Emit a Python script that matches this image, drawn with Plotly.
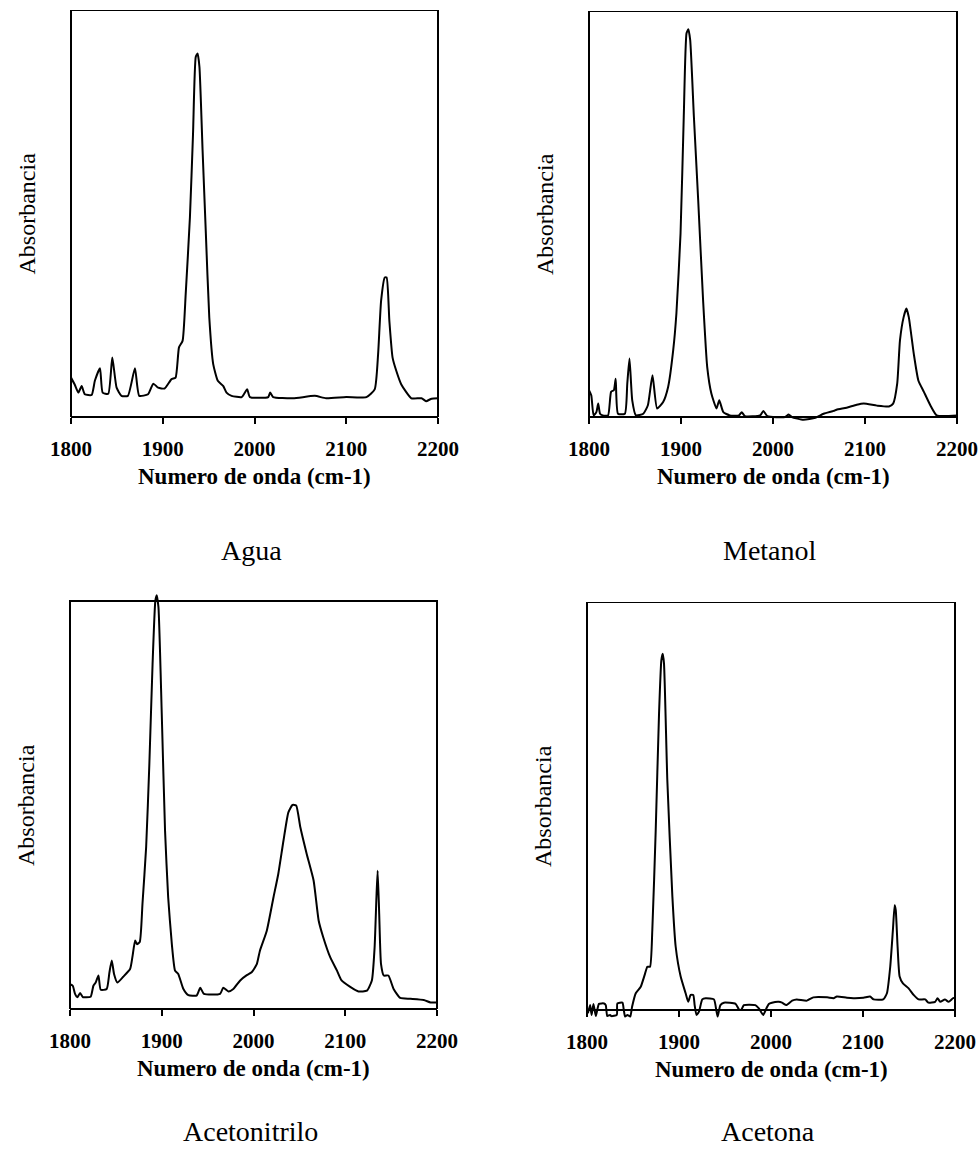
import plotly.graph_objects as go

# ---------------- data ----------------
agua_x = [1800, 1804, 1808, 1811.6, 1815, 1822.5, 1826, 1831.6, 1834.5, 1840.6, 1845, 1849.7, 1855, 1862,
          1869.7, 1874.4, 1884, 1889.7, 1895, 1902, 1909.6, 1914, 1917.7, 1921.6, 1925, 1929.6, 1933, 1936,
          1938, 1940, 1943.4, 1947, 1950.7, 1955, 1960, 1966, 1969.5, 1975, 1986, 1992, 1995, 2015, 2017,
          2020.3, 2042, 2065.7, 2078, 2100, 2122, 2131, 2134.7, 2138, 2142, 2144, 2147, 2150.5, 2154.6,
          2160, 2171, 2182, 2187, 2193, 2200]
agua_y = [0.097, 0.080, 0.060, 0.076, 0.056, 0.054, 0.089, 0.120, 0.060, 0.057, 0.146, 0.072, 0.052, 0.052,
          0.120, 0.052, 0.056, 0.082, 0.072, 0.070, 0.093, 0.097, 0.171, 0.187, 0.302, 0.490, 0.696, 0.885,
          0.893, 0.860, 0.656, 0.450, 0.245, 0.130, 0.089, 0.076, 0.060, 0.052, 0.049, 0.068, 0.049, 0.049, 0.060,
          0.049, 0.046, 0.052, 0.046, 0.049, 0.049, 0.068, 0.154, 0.286, 0.343, 0.343, 0.236, 0.146, 0.113,
          0.080, 0.046, 0.046, 0.039, 0.045, 0.046]

metanol_x = [1800, 1802.5, 1805, 1808, 1810, 1812, 1815, 1820.7, 1824, 1827, 1829, 1831.5, 1839, 1841.6, 1844,
             1847, 1851, 1859, 1864, 1869, 1874, 1880.6, 1886, 1891.5, 1895, 1899.5, 1903, 1906, 1908, 1910,
             1914, 1918.7, 1924, 1928.5, 1933, 1938.6, 1941.6, 1946, 1953, 1963, 1966, 1969.5, 1986, 1989.5,
             1994, 2013, 2017, 2020.5, 2033, 2046, 2055, 2066, 2069, 2080, 2091, 2098.6, 2113, 2126, 2130.6,
             2135, 2138, 2142, 2145, 2147.6, 2153, 2158, 2164, 2171, 2178, 2200]
metanol_y = [0.066, 0.053, 0.004, 0.012, 0.033, 0.008, 0.004, 0.004, 0.062, 0.066, 0.094, 0.008, 0.008, 0.082, 0.144,
             0.041, 0.004, 0.008, 0.029, 0.103, 0.021, 0.037, 0.074, 0.164, 0.255, 0.452, 0.740, 0.945, 0.955, 0.928,
             0.740, 0.534, 0.288, 0.123, 0.058, 0.021, 0.041, 0.012, 0.004, 0.004, 0.012, 0.002, 0.004, 0.015,
             0.002, 0.000, 0.006, 0.000, -0.007, -0.002, 0.008, 0.015, 0.018, 0.023, 0.030, 0.033, 0.028, 0.026, 0.033,
             0.082, 0.189, 0.246, 0.267, 0.246, 0.156, 0.090, 0.062, 0.029, 0.004, 0.004]

acetonitrilo_x = [1800, 1803, 1805.5, 1808, 1811, 1814, 1816, 1822.5, 1825.5, 1828, 1831, 1833.5, 1840, 1843,
                  1845.5, 1848, 1851.6, 1858, 1865.5, 1868, 1871, 1873, 1876, 1879, 1883, 1886.5, 1890, 1893,
                  1894.5, 1896.4, 1900, 1903.6, 1907, 1911, 1914.5, 1918, 1923.6, 1929, 1938, 1942, 1946, 1963.6,
                  1967, 1972.7, 1978, 1985.5, 1992.7, 1998, 2003.6, 2007, 2014.5, 2021.8, 2027, 2032.7, 2038,
                  2042.5, 2046.5, 2051, 2058, 2065.5, 2071, 2076, 2083.6, 2091, 2096, 2105, 2114.5, 2123.6, 2129,
                  2132, 2134, 2135.3, 2137, 2139, 2142, 2147, 2152.7, 2160, 2171, 2185.5, 2193, 2200]
acetonitrilo_y = [0.061, 0.057, 0.037, 0.029, 0.039, 0.029, 0.029, 0.030, 0.057, 0.065, 0.082, 0.047, 0.049, 0.090,
                  0.119, 0.086, 0.065, 0.079, 0.098, 0.127, 0.168, 0.159, 0.164, 0.258, 0.397, 0.601, 0.846, 1.000,
                  1.014, 0.985, 0.724, 0.437, 0.274, 0.159, 0.094, 0.086, 0.049, 0.034, 0.033, 0.052, 0.037, 0.037,
                  0.052, 0.043, 0.049, 0.070, 0.083, 0.090, 0.110, 0.143, 0.192, 0.274, 0.331, 0.413, 0.482,
                  0.500, 0.499, 0.446, 0.380, 0.315, 0.217, 0.176, 0.127, 0.094, 0.070, 0.055, 0.043, 0.045, 0.070,
                  0.151, 0.274, 0.339, 0.233, 0.110, 0.082, 0.082, 0.049, 0.027, 0.025, 0.022, 0.016, 0.016]

acetona_x = [1801, 1803.4, 1805, 1807, 1809.6, 1813, 1818.6, 1820.4, 1822, 1825, 1826.6, 1832.4, 1833, 1838.5,
             1840, 1841.4, 1844, 1847, 1849, 1853, 1858.4, 1862.7, 1865.6, 1868.5, 1871, 1874.7, 1878.3, 1880.8,
             1882.3, 1883.7, 1887.3, 1892.8, 1896.4, 1901.8, 1907.2, 1910, 1912.7, 1915.5, 1917, 1919, 1921.7,
             1925.3, 1929, 1938, 1940.5, 1942, 1945, 1948.8, 1961.5, 1965, 1967.6, 1970.5, 1983, 1986.8, 1991.5,
             1995, 1997.6, 2001, 2008.4, 2012, 2016.7, 2023, 2028, 2039, 2046, 2061, 2068, 2071.6, 2082.5,
             2089.6, 2100.5, 2107.7, 2111.5, 2122, 2126, 2129.6, 2132.5, 2134.4, 2135.6, 2137.6, 2139.8, 2143.4,
             2149.6, 2155, 2160.4, 2167.6, 2171, 2178.4, 2181, 2184, 2189, 2193, 2198, 2200]
acetona_y = [-0.008, 0.012, -0.012, 0.015, -0.015, 0.015, 0.016, 0.012, -0.015, -0.012, -0.015, -0.012, 0.016, 0.018,
             0.000, -0.016, -0.012, -0.016, 0.008, 0.041, 0.057, 0.086, 0.106, 0.106, 0.196, 0.441, 0.727, 0.857,
             0.873, 0.849, 0.563, 0.278, 0.155, 0.082, 0.041, 0.020, 0.037, 0.037, 0.012, -0.012, -0.004,
             0.026, 0.029, 0.026, 0.000, -0.016, 0.012, 0.018, 0.015, 0.002, 0.000, 0.012, 0.012, 0.004, -0.012,
             0.004, 0.015, 0.018, 0.020, 0.018, 0.012, 0.023, 0.026, 0.023, 0.031, 0.031, 0.029, 0.033, 0.030,
             0.029, 0.030, 0.033, 0.026, 0.026, 0.041, 0.106, 0.196, 0.257, 0.245, 0.155, 0.082, 0.065,
             0.053, 0.037, 0.026, 0.026, 0.018, 0.020, 0.029, 0.020, 0.026, 0.020, 0.029, 0.029]

panel_names = ["Agua", "Metanol", "Acetonitrilo", "Acetona"]
x_ticks = [1800, 1900, 2000, 2100, 2200]
x_title = "Numero de onda (cm-1)"
y_title = "Absorbancia"

# ---------------- layout ----------------
W, H = 979, 1150
SERIF = "Liberation Serif, Times New Roman, serif"

# pixel boxes: left, right, top(y=1), bottom(y=0), y range, caption gap below axis
panels = [
    dict(x=agua_x, y=agua_y, l=71, r=438, t=10, b=417, yr=[0, 1.0], cap=133),
    dict(x=metanol_x, y=metanol_y, l=589, r=957, t=11, b=417, yr=[-0.012, 1.0], cap=133),
    dict(x=acetonitrilo_x, y=acetonitrilo_y, l=70, r=437, t=601, b=1009, yr=[0, 1.03], cap=122),
    dict(x=acetona_x, y=acetona_y, l=587, r=955, t=602, b=1010, yr=[-0.022, 1.0], cap=121),
]

fig = go.Figure()
annotations = []
shapes = []
for i, p in enumerate(panels, start=1):
    xa = "x" if i == 1 else f"x{i}"
    ya = "y" if i == 1 else f"y{i}"
    fig.add_trace(go.Scatter(x=p["x"], y=p["y"], mode="lines",
                             line=dict(color="black", width=2, shape="spline", smoothing=0.5),
                             xaxis=xa, yaxis=ya, showlegend=False))
    unit = p["b"] - p["t"]
    y0, y1 = p["yr"]
    top_px = p["b"] - y1 * unit
    bot_px = p["b"] - y0 * unit
    dx = [p["l"] / W, p["r"] / W]
    dy = [1 - bot_px / H, 1 - top_px / H]
    zero_pos = 1 - p["b"] / H
    xkey = "xaxis" if i == 1 else f"xaxis{i}"
    ykey = "yaxis" if i == 1 else f"yaxis{i}"
    fig.layout[xkey] = dict(domain=dx, range=[1800, 2200], tickvals=x_ticks,
                            ticks="outside", ticklen=6, tickwidth=2, tickcolor="black",
                            showline=True, linecolor="black", linewidth=2,
                            showgrid=False, zeroline=False, automargin=False,
                            anchor="free", position=zero_pos,
                            ticklabelstandoff=7,
                            tickfont=dict(family=SERIF, size=21, color="black", weight="bold"))
    fig.layout[ykey] = dict(domain=dy, range=p["yr"], showticklabels=False, ticks="",
                            showline=False, showgrid=False, zeroline=False, automargin=False)
    # frame of the plot box (x domain edges, y from 0 to 1)
    shapes.append(dict(type="rect", xref=f"{xa} domain", yref=ya, x0=0, x1=1, y0=0, y1=1,
                       line=dict(color="black", width=2), layer="above"))
    cx = (p["l"] + p["r"]) / 2 / W
    # x title
    annotations.append(dict(text=x_title, x=cx, y=1 - (p["b"] + 59) / H, xref="paper", yref="paper",
                            showarrow=False, xanchor="center", yanchor="middle",
                            font=dict(family=SERIF, size=23, color="black", weight="bold")))
    # y title
    annotations.append(dict(text=y_title, x=(p["l"] - 44) / W, y=1 - (p["t"] + p["b"]) / 2 / H,
                            xref="paper", yref="paper", textangle=-90, showarrow=False,
                            xanchor="center", yanchor="middle",
                            font=dict(family=SERIF, size=24, color="black")))
    # caption
    annotations.append(dict(text=panel_names[i - 1], x=cx - 3 / W, y=1 - (p["b"] + p["cap"]) / H,
                            xref="paper", yref="paper", showarrow=False,
                            xanchor="center", yanchor="middle",
                            font=dict(family=SERIF, size=28, color="black")))

fig.update_layout(width=W, height=H, margin=dict(l=0, r=0, t=0, b=0),
                  paper_bgcolor="white", plot_bgcolor="white",
                  annotations=annotations, shapes=shapes)

fig.write_html("out.html")
